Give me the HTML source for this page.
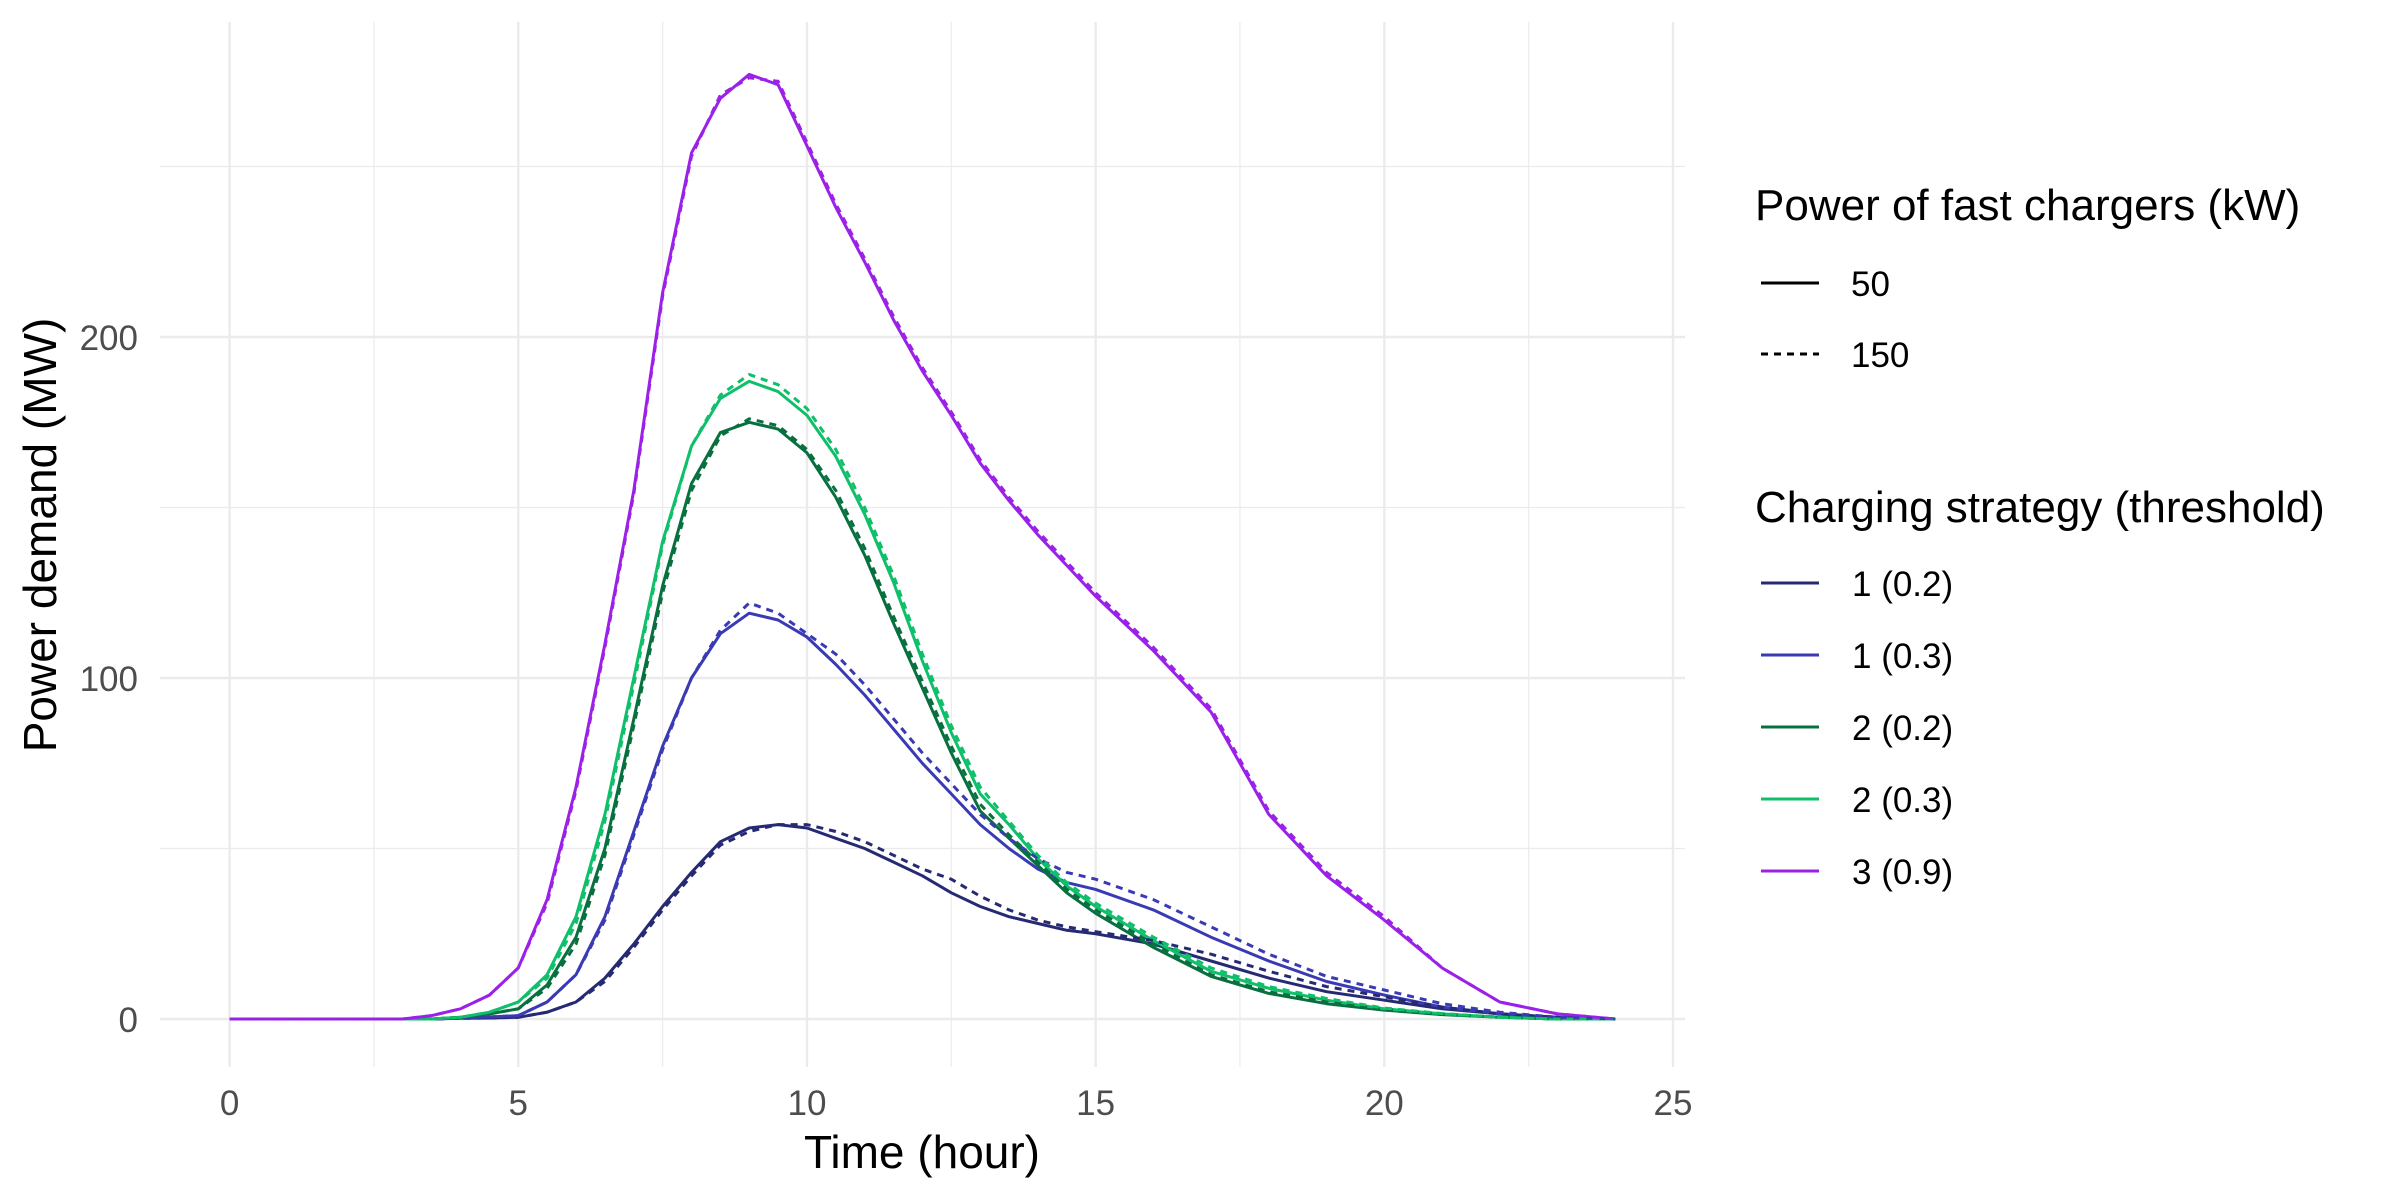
<!DOCTYPE html>
<html><head><meta charset="utf-8"><style>
html,body{margin:0;padding:0;background:#fff;}
svg{display:block;font-family:"Liberation Sans",sans-serif;}
</style></head><body>
<svg id="chart" width="2400" height="1200" viewBox="0 0 2400 1200">
<g id="grid"></g>
<g id="series"></g>
<g id="axes"></g>
<text x="922" y="1168" font-size="46" text-anchor="middle" fill="#000">Time (hour)</text>
<text transform="translate(56,535) rotate(-90)" font-size="46" text-anchor="middle" fill="#000">Power demand (MW)</text>
<g id="legend">
<text x="1755" y="220" font-size="44" fill="#000">Power of fast chargers (kW)</text>
<line x1="1761" y1="283" x2="1819" y2="283" stroke="#000" stroke-width="3"/>
<text x="1851" y="296" font-size="35" fill="#000">50</text>
<line x1="1761" y1="354" x2="1819" y2="354" stroke="#000" stroke-width="3" stroke-dasharray="7,6"/>
<text x="1851" y="367" font-size="35" fill="#000">150</text>
<text x="1755" y="522" font-size="44" fill="#000">Charging strategy (threshold)</text>
</g>
</svg>
<script>
const hours=[0,1,2,3,3.5,4,4.5,5,5.5,6,6.5,7,7.5,8,8.5,9,9.5,10,10.5,11,11.5,12,12.5,13,13.5,14,14.5,15,16,17,18,19,20,21,22,23,24];
const s1_02=[0,0,0,0,0,0.2,0.3,0.5,2,5,12,22,33,43,52,56,57,56,53,50,46,42,37,33,30,28,26,25,22,17,12,8,5.5,3,1.5,0.5,0];
const s1_03=[0,0,0,0,0,0.3,0.6,1,5,13,30,55,80,100,113,119,117,112,104,95,85,75,66,57,50,44,40,38,32,24,17,11,7,3.5,1.5,0.5,0];
const s2_02=[0,0,0,0,0,0.5,1.5,3,10,24,50,88,127,157,172,175,173,166,153,136,116,97,78,61,53,45,37,31,21,12.5,7.5,4.5,2.6,1.3,0.5,0,0];
const s2_03=[0,0,0,0,0,0.5,2,5,13,30,60,100,140,168,182,187,184,177,165,148,128,105,84,66,57,47,39,33,23,14,9,5.5,3,1.5,0.5,0,0];
const s3_09=[0,0,0,0,1,3,7,15,35,68,110,155,213,254,270,277,274,256,238,222,205,190,177,163,152,142,133,124,108,90,60,42,29,15,5,1.5,0];
const d1_02=[0,0,0,0,0,0.2,0.3,0.5,2,5,11,21,32,42,51,55,57,57,55,52,48,44,41,36,32,29,27,25.6,23,19,14,9.5,6.5,3.5,1.5,0.5,0];
const d1_03=[0,0,0,0,0,0.3,0.6,1,5,13,29,54,79,100,114,122,119,113,107,98,88,78,69,60,53,47,43,41,35,27,19,12.5,8.5,4.5,2,0.5,0];
const d2_02=[0,0,0,0,0,0.5,1.5,3,9,22,48,86,125,155,171,176,174,167,155,138,118,99,80,63,54,46,38,32,22,13,8,5,2.8,1.4,0.5,0,0];
const d2_03=[0,0,0,0,0,0.5,2,5,12,28,58,98,139,168,183,189,186,179,167,150,130,107,86,68,58,48,40,34,24,15,9.5,6,3.2,1.6,0.5,0,0];
const d3_09=[0,0,0,0,1,3,7,15,34,67,109,154,212,253,271,276,275,257,239,223,206,191,178,164,153,143,134,125,109,91,61,43,30,15,5,1.5,0];
const xTicks=[0,5,10,15,20,25];
const yTicks=[0,100,200];
const seriesNames=["1 (0.2)","1 (0.3)","2 (0.2)","2 (0.3)","3 (0.9)"];
const seriesColors=["#262a73","#3a3ab5","#08703f","#0fbf6a","#9b20e8"];
const solidData=[s1_02,s1_03,s2_02,s2_03,s3_09];
const dashedData=[d1_02,d1_03,d2_02,d2_03,d3_09];

const NS="http://www.w3.org/2000/svg";
const X0=229.6,X1=1673,Y0=1019,Y200=337;
const sx=h=>X0+(X1-X0)*h/25;
const sy=v=>Y0+(Y200-Y0)*v/200;
const PL=160,PR=1685,PT=22,PB=1067;
function mk(tag,attrs,parent){const e=document.createElementNS(NS,tag);for(const k in attrs)e.setAttribute(k,attrs[k]);parent.appendChild(e);return e;}
const grid=document.getElementById('grid');
for(let h=2.5;h<25;h+=5){const l=mk('line',{x1:sx(h),x2:sx(h),y1:PT,y2:PB,stroke:'#ebebeb','stroke-width':1.2},grid);

}
for(let v=50;v<=250;v+=100){const l=mk('line',{x1:PL,x2:PR,y1:sy(v),y2:sy(v),stroke:'#ebebeb','stroke-width':1.2},grid);

}
const axes=document.getElementById('axes');
xTicks.forEach(t=>{const l=mk('line',{x1:sx(t),x2:sx(t),y1:PT,y2:PB,stroke:'#ebebeb','stroke-width':2.4},grid);


const tx=mk('text',{x:sx(t),y:1115,'font-size':35,'text-anchor':'middle',fill:'#4d4d4d'},axes);tx.textContent=t;

});
yTicks.forEach(t=>{const l=mk('line',{x1:PL,x2:PR,y1:sy(t),y2:sy(t),stroke:'#ebebeb','stroke-width':2.4},grid);


const tx=mk('text',{x:138,y:sy(t)+13,'font-size':35,'text-anchor':'end',fill:'#4d4d4d'},axes);tx.textContent=t;

});
const sg=document.getElementById('series');
function path(arr){return arr.map((v,i)=>(i?'L':'M')+sx(hours[i]).toFixed(1)+','+sy(v).toFixed(1)).join('');}
solidData.forEach((arr,i)=>{const p=mk('path',{d:path(arr),fill:'none',stroke:seriesColors[i],'stroke-width':3,'stroke-linejoin':'round'},sg);

});
dashedData.forEach((arr,i)=>{const p=mk('path',{d:path(arr),fill:'none',stroke:seriesColors[i],'stroke-width':3,'stroke-dasharray':'7,6'},sg);

});
const lg=document.getElementById('legend');
seriesNames.forEach((n,i)=>{const y=583+72*i;
const l=mk('line',{x1:1761,x2:1819,y1:y,y2:y,stroke:seriesColors[i],'stroke-width':3},lg);


const t=mk('text',{x:1852,y:y+13,'font-size':35,fill:'#000'},lg);t.textContent=n;

});
</script>
</body></html>
